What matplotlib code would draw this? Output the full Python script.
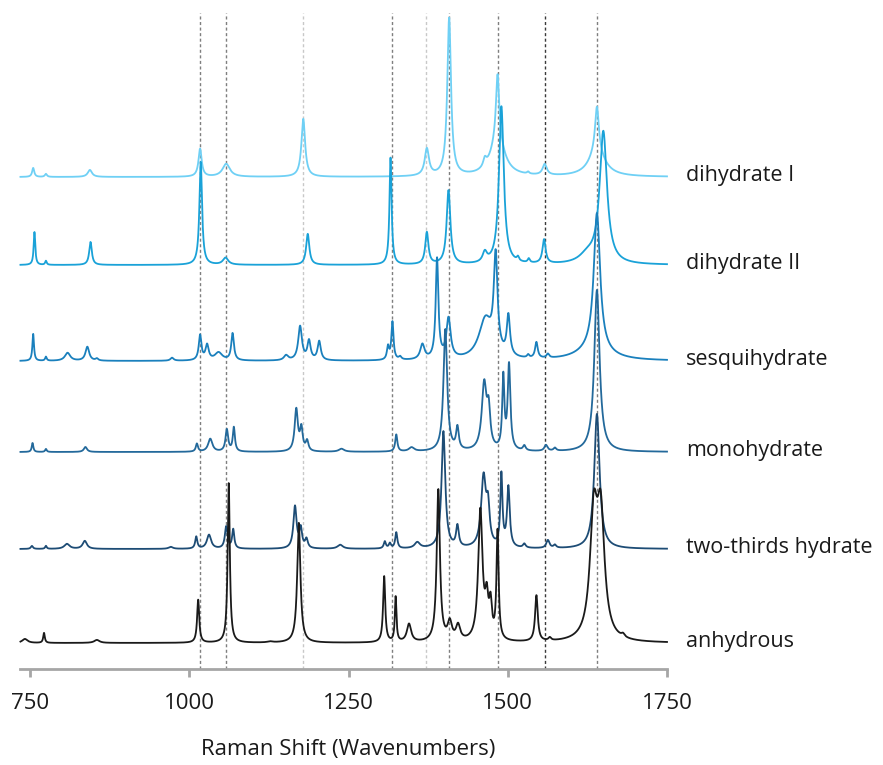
import numpy as np
import matplotlib
matplotlib.use("Agg")
import matplotlib.pyplot as plt

plt.rcParams['font.family'] = ['Open Sans', 'DejaVu Sans']

# ---------------- data ----------------
series_names = ["dihydrate I", "dihydrate II", "sesquihydrate",
                "monohydrate", "two-thirds hydrate", "anhydrous"]
series_colors = ["#6fd0f5", "#1aa2d8", "#1a80bd", "#23699b", "#1d4c75", "#1a1a1a"]
# vertical offset of each trace (intensity units)
series_offsets = [492, 404, 308, 217, 120, 26]

# peaks: (position cm-1, height, FWHM cm-1)
dihydrate_I = [(755, 9, 4), (775, 3, 4), (844, 7, 8), (1017, 28, 6), (1058, 13, 14),
               (1179, 58, 7), (1373, 27, 8), (1408, 158, 7), (1464, 8, 6),
               (1484, 66, 6), (1484, 36, 26), (1532, 2, 4), (1558, 11, 8),
               (1640, 45, 7), (1640, 25, 30)]
dihydrate_II = [(757, 33, 3), (775, 4, 3), (845, 23, 5), (1018, 103, 5), (1057, 7, 10),
                (1186, 31, 6), (1316, 107, 4), (1373, 32, 6), (1407, 74, 7),
                (1464, 10, 8), (1490, 158, 9), (1516, 4, 4), (1533, 4, 4),
                (1557, 24, 6), (1650, 132, 14), (1625, 8, 30)]
sesquihydrate = [(755, 27, 3), (775, 4, 3), (809, 8, 10), (840, 14, 7), (855, 2, 5),
                 (973, 3, 6), (1017, 25, 5), (1028, 15, 6), (1046, 8, 14), (1068, 27, 5),
                 (1152, 5, 8), (1174, 34, 7), (1188, 19, 6), (1204, 19, 6),
                 (1312, 13, 4), (1319, 38, 4), (1331, 3, 5), (1366, 15, 8),
                 (1389, 100, 5), (1407, 40, 8), (1465, 40, 25), (1481, 95, 7),
                 (1501, 40, 6), (1532, 3, 4), (1545, 16, 5), (1563, 4, 5),
                 (1640, 138, 12), (1635, 10, 60)]
monohydrate = [(754, 9, 3), (775, 3, 3), (837, 5, 6), (1012, 8, 4), (1033, 13, 8),
               (1059, 22, 5), (1070, 24, 4), (1168, 42, 6), (1176, 22, 5), (1185, 10, 5),
               (1239, 3, 10), (1325, 17, 4), (1349, 4, 10), (1402, 122, 7),
               (1421, 22, 5), (1463, 66, 9), (1470, 35, 6), (1493, 72, 4),
               (1502, 85, 5), (1526, 5, 5), (1560, 6, 6), (1574, 3, 5), (1640, 162, 10)]
two_thirds = [(753, 3, 4), (775, 3, 3), (808, 5, 10), (836, 8, 8), (971, 2, 8),
              (1011, 12, 4), (1031, 14, 8), (1058, 22, 5), (1069, 19, 4),
              (1166, 42, 6), (1175, 19, 5), (1184, 9, 5), (1237, 4, 10),
              (1307, 7, 4), (1315, 5, 4), (1325, 16, 4), (1358, 6, 10),
              (1399, 117, 7), (1421, 21, 5), (1462, 70, 9), (1469, 35, 6),
              (1490, 72, 4), (1501, 60, 5), (1526, 4, 5), (1563, 8, 6),
              (1574, 3, 5), (1640, 135, 10)]
anhydrous = [(742, 4, 10), (772, 10, 3), (855, 3, 10), (1014, 43, 4), (1062, 160, 4),
             (1127, 1, 10), (1172, 120, 6), (1306, 66, 4), (1324, 45, 3),
             (1345, 18, 8), (1391, 152, 6), (1409, 18, 8), (1422, 15, 8),
             (1457, 130, 8), (1467, 36, 6), (1473, 32, 5), (1484, 108, 4),
             (1545, 46, 5), (1566, 3, 5), (1635, 118, 14), (1646, 118, 14),
             (1681, 3, 6)]
series_peaks = [dihydrate_I, dihydrate_II, sesquihydrate, monohydrate, two_thirds, anhydrous]

# reference band positions (dashed lines) and their colours
ref_lines = [1017, 1057, 1179, 1318, 1372, 1407, 1484, 1558, 1640]
ref_colors = ["#7f7f7f", "#7f7f7f", "#c8c8c8", "#7f7f7f", "#c8c8c8",
              "#7f7f7f", "#7f7f7f", "#3a3a3a", "#7f7f7f"]

tick_values = [750, 1000, 1250, 1500, 1750]
x_min, x_max = 735, 1750

# ---------------- figure ----------------
W, H, DPI = 883, 765, 100
fig = plt.figure(figsize=(W / DPI, H / DPI), dpi=DPI)

px_per_unit = 0.637
left_px = 30 - (750 - x_min) * px_per_unit
right_px = 30 + (x_max - 750) * px_per_unit
axis_y_px = 669
ax = fig.add_axes([left_px / W, (H - axis_y_px) / H,
                   (right_px - left_px) / W, axis_y_px / H])
ax.set_xlim(x_min, x_max)
ax.set_ylim(0, axis_y_px)

wn = np.linspace(x_min, x_max, 4000)


def spectrum(peaks):
    y = np.zeros_like(wn)
    for c, h, w in peaks:
        y += h / (1.0 + ((wn - c) / (w / 2.0)) ** 2)
    return y


for xv, col in zip(ref_lines, ref_colors):
    ax.plot([xv, xv], [0, 656], color=col, lw=1.0, dashes=(2.2, 1.8), zorder=1)

for name, col, off, pk in zip(series_names, series_colors, series_offsets, series_peaks):
    ax.plot(wn, off + spectrum(pk), color=col, lw=1.3, zorder=3,
            solid_joinstyle='round', clip_on=False)
    ax.text(1780, off - 4, name, fontsize=15.5, color="#1a1a1a",
            va='baseline', ha='left', clip_on=False)

for s in ['top', 'right', 'left']:
    ax.spines[s].set_visible(False)
ax.spines['bottom'].set_color('#a6a6a6')
ax.spines['bottom'].set_linewidth(2.0)
ax.set_yticks([])
ax.set_xticks(tick_values)
ax.set_xticklabels([str(t) for t in tick_values])
ax.tick_params(axis='x', direction='out', length=6, width=2.0, color='#a6a6a6',
               labelsize=16, labelcolor='#1a1a1a', pad=11)
ax.patch.set_alpha(0)

fig.text(348 / W, 1 - 750 / H, "Raman Shift (Wavenumbers)", fontsize=16,
         color="#1a1a1a", ha='center', va='center')

fig.savefig("out.png", dpi=DPI)
